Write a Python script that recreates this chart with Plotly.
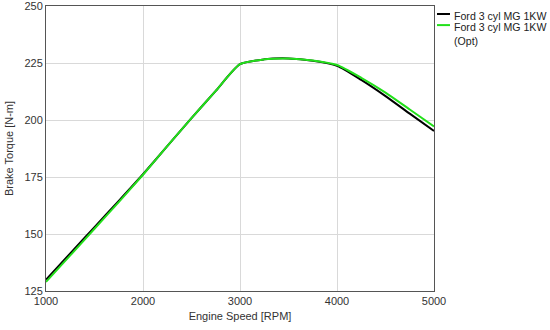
import plotly.graph_objects as go

rpm = [1000, 1250, 1500, 1750, 2000, 2250, 2500, 2750, 3000, 3250, 3500, 3750, 4000, 4250, 4500, 4750, 5000]
torque_base = [130.0, 141.5, 153.0, 164.5, 176.2, 188.5, 200.8, 212.8, 224.5, 226.6, 227.0, 226.0, 223.8, 217.6, 210.5, 202.8, 195.2]
torque_opt = [129.0, 140.6, 152.3, 164.0, 176.0, 188.5, 200.8, 212.8, 224.5, 226.6, 227.0, 226.1, 224.1, 218.5, 212.0, 204.6, 197.2]
names = ["Ford 3 cyl MG 1KW", "Ford 3 cyl MG 1KW<br>(Opt)"]
colors = ["#000000", "#22e01a"]

FONT = "Liberation Sans, Arial"
fig = go.Figure()
for ys, nm, col in zip([torque_base, torque_opt], names, colors):
    fig.add_trace(go.Scatter(x=rpm, y=ys, mode="lines", name=nm, showlegend=False,
                             line=dict(color=col, width=2, shape="spline", smoothing=0.6)))

axis_common = dict(showgrid=True, gridcolor="#d9d9d9", gridwidth=1,
                   showline=True, linecolor="#555555", linewidth=1, mirror=True,
                   zeroline=False, ticks="", automargin=False, ticklabeloverflow="allow",
                   tickfont=dict(family=FONT, size=11, color="#333333"),
                   title_font=dict(family=FONT, size=11, color="#333333"))

fig.update_xaxes(range=[1000, 5000], dtick=1000, title_text="Engine Speed [RPM]", title_standoff=6, **axis_common)
fig.update_yaxes(range=[125, 250], dtick=25, title_text="Brake Torque [N-m]", title_standoff=8, **axis_common)

# manual legend (outside the plot area, in the right margin)
leg_y = [0.972, 0.933]
for yy, nm, col in zip(leg_y, names, colors):
    fig.add_shape(type="line", xref="paper", yref="paper", x0=1.0077, x1=1.0412, y0=yy, y1=yy,
                  line=dict(color=col, width=2))
    fig.add_annotation(xref="paper", yref="paper", x=1.047, y=yy + 0.022, xanchor="left", yanchor="top",
                       text=nm, showarrow=False, align="left",
                       font=dict(family=FONT, size=10.6, color="#222222"))

fig.update_layout(
    width=550, height=330,
    margin=dict(l=46, r=116, t=6, b=39),
    paper_bgcolor="white", plot_bgcolor="white",
    font=dict(family=FONT, size=11, color="#222222"),
    showlegend=False,
)

fig.write_html("out.html", config={"displayModeBar": False},
               post_script="document.body.style.margin='0px';")
